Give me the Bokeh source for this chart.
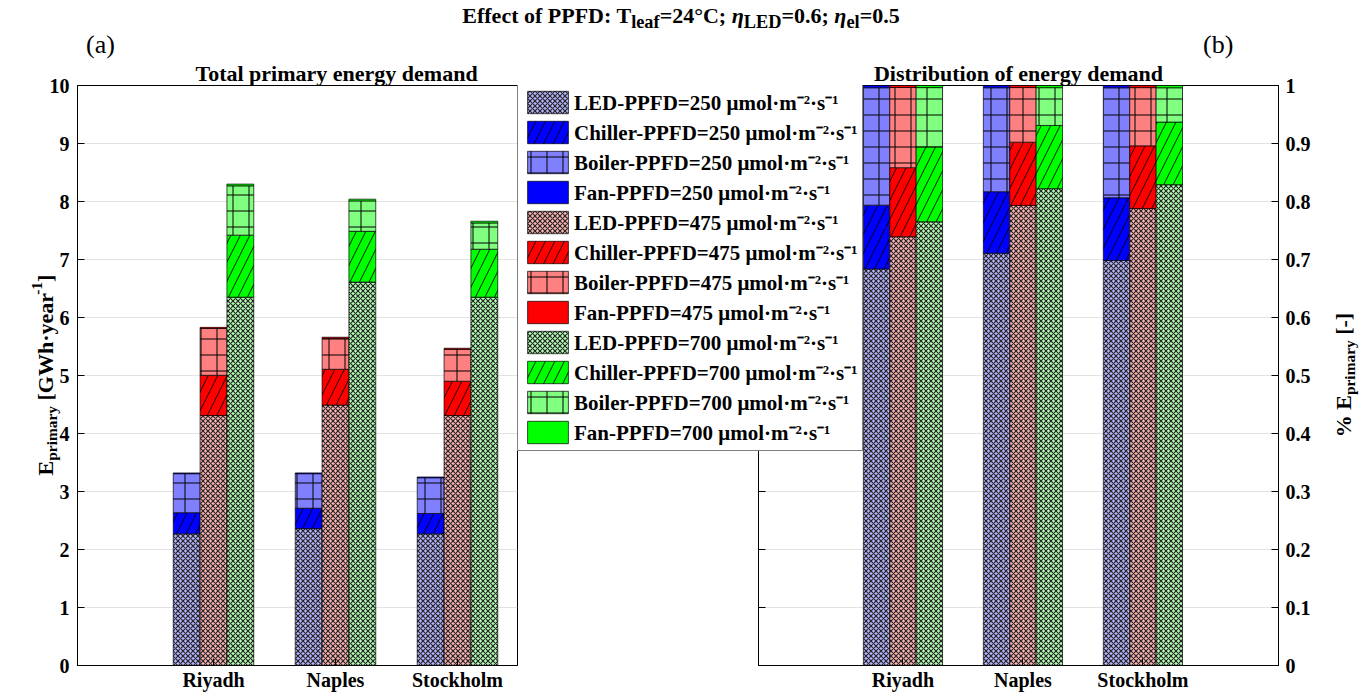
import numpy as np
from bokeh.plotting import figure
from bokeh.models import (Range1d, FixedTicker, LinearAxis, Legend, LegendItem, Label, Div)
from bokeh.layouts import column, row
from bokeh.embed import file_html
from bokeh.resources import INLINE

# ---------------- data (GWh/year) ----------------
cities = ["Riyadh", "Naples", "Stockholm"]
ppfd_levels = [250, 475, 700]
components = ["LED", "Chiller", "Boiler", "Fan"]

led_250 = [2.27, 2.36, 2.27]
chiller_250 = [0.365, 0.352, 0.351]
boiler_250 = [0.672, 0.595, 0.616]
fan_250 = [0.013, 0.013, 0.013]

led_475 = [4.31, 4.49, 4.31]
chiller_475 = [0.694, 0.617, 0.591]
boiler_475 = [0.806, 0.533, 0.549]
fan_475 = [0.020, 0.020, 0.020]

led_700 = [6.35, 6.61, 6.35]
chiller_700 = [1.07, 0.876, 0.827]
boiler_700 = [0.85, 0.524, 0.453]
fan_700 = [0.030, 0.030, 0.030]

left_ticks = [0, 1, 2, 3, 4, 5, 6, 7, 8, 9, 10]
right_ticks = [0, 0.1, 0.2, 0.3, 0.4, 0.5, 0.6, 0.7, 0.8, 0.9, 1]

data = {
    250: {"LED": led_250, "Chiller": chiller_250, "Boiler": boiler_250, "Fan": fan_250},
    475: {"LED": led_475, "Chiller": chiller_475, "Boiler": boiler_475, "Fan": fan_475},
    700: {"LED": led_700, "Chiller": chiller_700, "Boiler": boiler_700, "Fan": fan_700},
}

# ---------------- styles ----------------
FONT = "Liberation Serif"
colors = {
    250: {"LED": "#b3b3ff", "Chiller": "#0000ff", "Boiler": "#8080ff", "Fan": "#0000ff"},
    475: {"LED": "#ffb3b3", "Chiller": "#ff0000", "Boiler": "#ff8080", "Fan": "#ff0000"},
    700: {"LED": "#b3ffb3", "Chiller": "#00ff00", "Boiler": "#80ff80", "Fan": "#00ff00"},
}
hatches = {"LED": ("x", 5.0, "#262626", 1.2), "Chiller": ("/", 19.0, "black", 0.9),
           "Boiler": ("+", 16.0, "black", 1.0), "Fan": (None, 1.0, "black", 1.0)}
offsets = {250: -0.22, 475: 0.0, 700: 0.22}
BAR_W = 0.22
xpos = np.array([1, 2, 3], dtype=float)

PAGE_W = 1362
DIV_H = 58               # header (title, panel tags): page y 0 .. 58
H = 696 - DIV_H          # figure canvases: page y 58 .. 696
FRAME_TOP = 84           # page y of plot frames
FRAME_BOTTOM = 665


def bar_kwargs(lvl, c):
    pat, scale, hcol, hw = hatches[c]
    kw = dict(fill_color=colors[lvl][c], line_color="black", line_width=0.7)
    if pat is not None:
        kw.update(hatch_pattern=pat, hatch_scale=scale, hatch_color=hcol, hatch_weight=hw)
    return kw


def style_axes(p):
    p.outline_line_color = "black"
    p.outline_line_width = 1
    p.xgrid.grid_line_color = None
    p.ygrid.grid_line_color = "#e3e3e3"
    p.ygrid.grid_line_width = 1
    for ax in p.xaxis + p.yaxis:
        ax.major_tick_in = 7
        ax.major_tick_out = 0
        ax.minor_tick_line_color = None
        ax.axis_line_color = "black"
        ax.major_tick_line_color = "black"
        ax.major_label_text_font = FONT
        ax.major_label_text_font_style = "bold"
        ax.major_label_text_font_size = "20px"
        ax.major_label_text_color = "black"
    p.xaxis.ticker = FixedTicker(ticks=[1, 2, 3])
    p.xaxis.major_label_overrides = {1: cities[0], 2: cities[1], 3: cities[2]}
    p.xaxis.major_label_standoff = 3
    p.title.text_font = FONT
    p.title.text_font_style = "bold"
    p.title.text_font_size = "22px"
    p.title.text_color = "black"
    p.title.standoff = 0


def stacked(normalise):
    out = {}
    for lvl in ppfd_levels:
        vals = {c: np.array(data[lvl][c], dtype=float) for c in components}
        total = sum(vals.values())
        bottom = np.zeros(3)
        for c in components:
            v = vals[c] / total if normalise else vals[c]
            out[(lvl, c)] = (xpos + offsets[lvl], bottom, bottom + v)
            bottom = bottom + v
    return out


def draw_bars(p, normalise, visible=True):
    rend = {}
    for (lvl, c), (x, b, t) in stacked(normalise).items():
        rend[(lvl, c)] = p.vbar(x=x, width=BAR_W, bottom=b, top=t, visible=visible,
                                **bar_kwargs(lvl, c))
    return rend


MB_TOP = FRAME_TOP - DIV_H
MB_BOT = 696 - FRAME_BOTTOM

# ---------------- left panel ----------------
p1 = figure(width=518, height=H, x_range=Range1d(-0.115, 3.492), y_range=Range1d(0, 10),
            output_backend="svg", toolbar_location=None,
            min_border_left=77, min_border_right=1, min_border_top=MB_TOP, min_border_bottom=MB_BOT,
            title="Total primary energy demand")
draw_bars(p1, normalise=False)
style_axes(p1)
p1.yaxis.ticker = FixedTicker(ticks=left_ticks)
p1.yaxis.major_label_standoff = 8
p1.title.align = "left"
p1.title.offset = 118

# ---------------- right panel ----------------
p2 = figure(width=PAGE_W - 518, height=H, x_range=Range1d(-0.204, 4.13), y_range=Range1d(0, 1),
            output_backend="svg", toolbar_location=None, y_axis_location="right",
            min_border_left=240, min_border_right=84, min_border_top=MB_TOP, min_border_bottom=MB_BOT,
            title="Distribution of energy demand")
draw_bars(p2, normalise=True)
p2.add_layout(LinearAxis(), "left")
style_axes(p2)
p2.title.align = "center"
for ax in p2.yaxis:
    ax.ticker = FixedTicker(ticks=right_ticks)
right_ax = p2.right[0]
left_ax = p2.left[0]
right_ax.major_label_overrides = {0: "0", 1: "1"}
right_ax.major_label_standoff = 7
left_ax.major_label_text_color = None
left_ax.major_label_standoff = 0

# ---------------- transparent overlay: legend and rotated axis labels ----------------
# its frame is aligned with the panels' frames (page y FRAME_TOP..FRAME_BOTTOM, x 0..PAGE_W)
ov = figure(width=PAGE_W, height=H, x_range=Range1d(-1, 0), y_range=Range1d(0, 1),
            output_backend="svg", toolbar_location=None, x_axis_type=None, y_axis_type=None,
            min_border=0, title=None)
ov.outline_line_color = None
ov.background_fill_alpha = 0
ov.border_fill_alpha = 0
ov.styles = {"margin-left": f"-{PAGE_W}px", "position": "relative", "z-index": "10"}


def sy(page_y):
    return FRAME_BOTTOM - page_y


WID = {"E": 0.667, "p": 0.556, "r": 0.444, "i": 0.278, "m": 0.833, "a": 0.5, "y": 0.5,
       " ": 0.25, "[": 0.333, "]": 0.333, "G": 0.778, "W": 1.0, "h": 0.556, "·": 0.25,
       "e": 0.444, "-": 0.333, "1": 0.5, "%": 1.0}


def text_len(t, fs):
    return sum(WID.get(ch, 0.5) for ch in t) * fs


def rotated_pieces(pieces, base_x, center_y, size):
    """pieces: (text, scale, baseline shift); leading spaces become gaps."""
    lens = [text_len(t, size * sc) for t, sc, _ in pieces]
    y = sy(center_y + sum(lens) / 2)
    for (text, sc, shift), ln in zip(pieces, lens):
        fs = size * sc
        body = text.lstrip(" ")
        gap = text_len(text[: len(text) - len(body)], fs)
        ov.add_layout(Label(x=base_x - shift, y=y + gap, x_units="screen", y_units="screen",
                            text=body, angle=np.pi / 2, text_font=FONT, text_font_style="bold",
                            text_font_size=f"{fs:.1f}px", text_align="left",
                            text_baseline="alphabetic", text_color="black"))
        y += ln


FRAME_MID = (FRAME_TOP + FRAME_BOTTOM) / 2
rotated_pieces([("E", 1.0, 0), ("primary", 0.7, -6), (" [GWh·year", 1.0, 0), ("-1", 0.7, 9),
                ("]", 1.0, 0)], 45, FRAME_MID, 22)
rotated_pieces([("%", 1.0, 0), (" E", 1.0, 0), ("primary", 0.7, -6), (" [-]", 1.0, 0)],
               1343, FRAME_MID, 22)

# legend proxies: same bars as the right panel, hidden
proxy = draw_bars(ov, normalise=True, visible=False)
items = []
for lvl in ppfd_levels:
    for c in components:
        items.append(LegendItem(label=f"{c}-PPFD={lvl} μmol·m⁻²·s⁻¹", renderers=[proxy[(lvl, c)]]))

GLYPH_H, SPACING, PAD = 28, 2, 4
LEG_H = 12 * GLYPH_H + 11 * SPACING + 2 * PAD
legend = Legend(items=items, location=(517, sy(FRAME_TOP + 1) - LEG_H),
                label_text_font=FONT, label_text_font_style="bold", label_text_font_size="21px",
                label_text_color="black", glyph_width=51, glyph_height=GLYPH_H,
                label_height=GLYPH_H, spacing=SPACING, padding=PAD, margin=0, label_standoff=1,
                border_line_color="black", border_line_width=1, inactive_fill_alpha=0,
                background_fill_color="white", background_fill_alpha=1.0)
ov.add_layout(legend)

# ---------------- header: overall title and panel tags ----------------
header_html = (
    f'<div style="position:relative;width:{PAGE_W}px;height:{DIV_H}px;'
    f"font-family:'{FONT}';color:black;\">"
    f'<div style="position:absolute;left:0;top:5px;width:{PAGE_W}px;text-align:center;'
    'font-size:22px;font-weight:bold;line-height:1;">'
    'Effect of PPFD: T<sub>leaf</sub>=24°C; <i>η</i><sub>LED</sub>=0.6; '
    '<i>η</i><sub>el</sub>=0.5</div>'
    '<div style="position:absolute;left:86px;top:32px;font-size:26px;line-height:1;">(a)</div>'
    '<div style="position:absolute;left:1203px;top:32px;font-size:26px;line-height:1;">(b)</div>'
    '</div>'
)
header = Div(text=header_html, width=PAGE_W, height=DIV_H, margin=(0, 0, 0, 0))

layout = column(header, row(p1, p2, ov))
open("out.html", "w").write(file_html(layout, INLINE))
